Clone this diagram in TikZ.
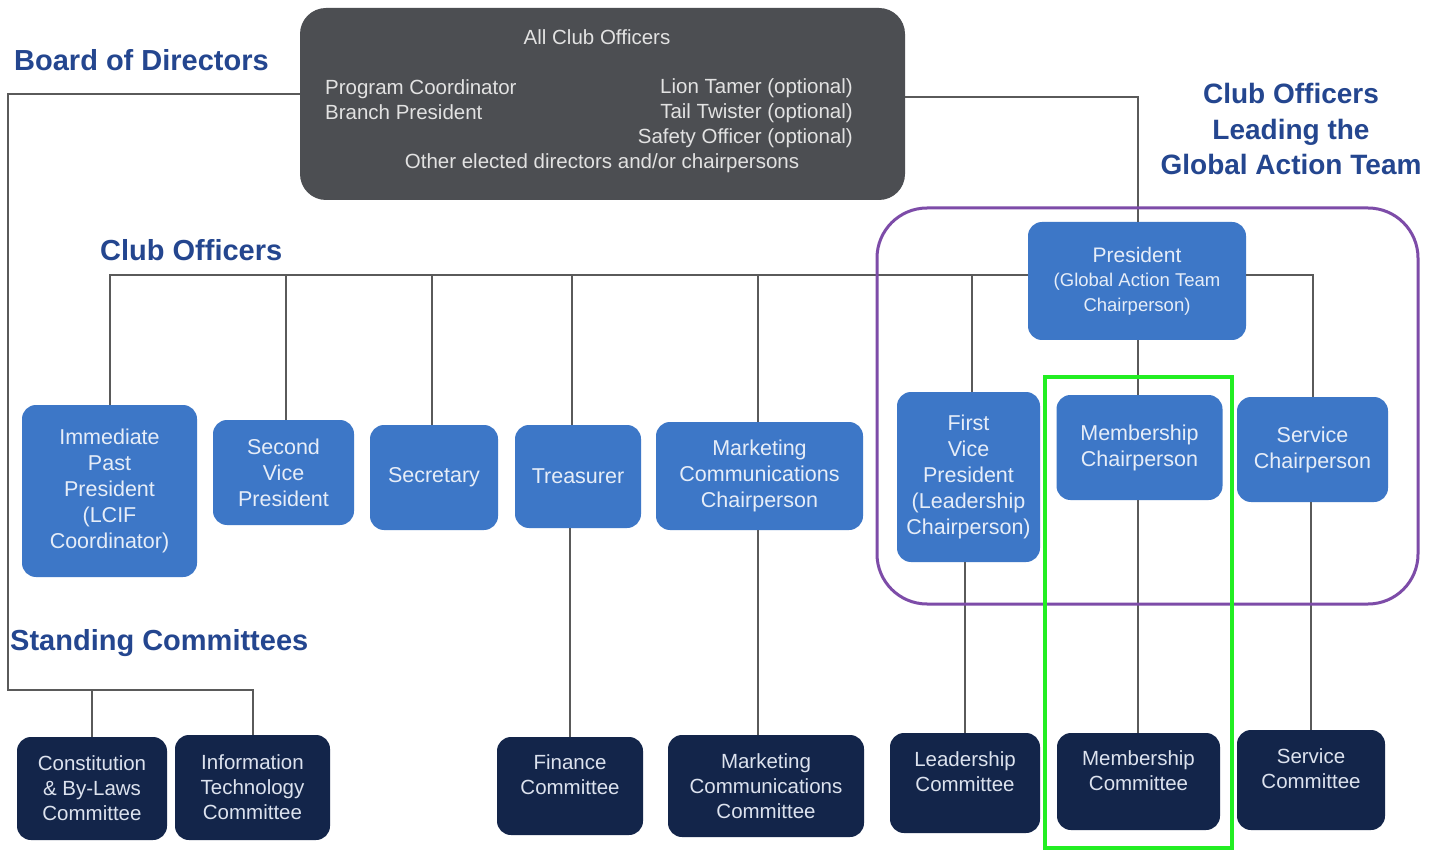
\documentclass[tikz,border=0pt]{standalone}
\usepackage{fontspec}
\setmainfont{Liberation Sans}
\definecolor{boxblue}{HTML}{3D77C7}
\definecolor{boxtext}{HTML}{E6EDF8}
\definecolor{navy}{HTML}{13254A}
\definecolor{navytext}{HTML}{DCE2EE}
\definecolor{topgray}{HTML}{4C4E52}
\definecolor{toptextc}{HTML}{E2E2E2}
\definecolor{headblue}{HTML}{24468F}
\definecolor{linegray}{HTML}{5A5A5A}
\definecolor{purpleframe}{HTML}{7D4CA8}
\definecolor{greenframe}{HTML}{22EE22}
\tikzset{
  bluebox/.style={fill=boxblue, rounded corners=14pt, text=boxtext, align=center, inner sep=0pt, font=\fontsize{21.5}{26}\selectfont},
  navybox/.style={fill=navy, rounded corners=14pt, text=navytext, align=center, inner sep=0pt, font=\fontsize{20.5}{25}\selectfont},
  heading/.style={text=headblue, font=\fontsize{29}{35.5}\selectfont\bfseries, inner sep=0pt},
  conn/.style={draw=linegray, line width=2pt},
  toptext/.style={text=toptextc, font=\fontsize{20.5}{25}\selectfont, inner sep=0pt},
}
\begin{document}
\begin{tikzpicture}[x=1pt,y=-1pt]
\useasboundingbox (0,0) rectangle (1441,850);
\fill[white] (0,0) rectangle (1441,850);

% headings
\node[heading, anchor=base west] (hbd) at (14,71) {Board of Directors};
\node[heading, anchor=base west] (hco) at (100,261) {Club Officers};
\node[heading, anchor=base west] (hsc) at (10,650) {Standing Committees};
\node[heading, align=center, font=\fontsize{28}{35.5}\selectfont\bfseries] (hgat) at (1291,129) {Club Officers\\Leading the\\Global Action Team};

% top box
\node[fill=topgray, rounded corners=26pt, minimum width=605, minimum height=192, inner sep=0pt] (top) at (602.5,104) {};
\node[toptext] (tall) at (597,37) {All Club Officers};
\node[toptext, align=left, anchor=west] (tleft) at (325,100) {Program Coordinator\\Branch President};
\node[toptext, align=right, anchor=east] (tright) at (853,113) {Lion Tamer (optional)\\Tail Twister (optional)\\Safety Officer (optional)};
\node[toptext] (tother) at (602,163) {Other elected directors and/or chairpersons};

% officers
\node[bluebox, minimum width=218, minimum height=118, font=\fontsize{18.5}{24.5}\selectfont] (pres) at (1137,281) {{\fontsize{21}{24.5}\selectfont President}\\(Global Action Team\\Chairperson)};
\node[bluebox, minimum width=175, minimum height=172] (ipp) at (109.5,491) {Immediate\\Past\\President\\(LCIF\\Coordinator)};
\node[bluebox, minimum width=141, minimum height=105] (svp) at (283.5,472.5) {Second\\Vice\\President};
\node[bluebox, minimum width=128, minimum height=105] (sec) at (434,477.5) {Secretary};
\node[bluebox, minimum width=126, minimum height=103] (tre) at (578,476.5) {Treasurer};
\node[bluebox, minimum width=207, minimum height=108] (mkt) at (759.5,476) {Marketing\\Communications\\Chairperson};
\node[bluebox, minimum width=143, minimum height=170] (fvp) at (968.5,477) {First\\Vice\\President\\(Leadership\\Chairperson)};
\node[bluebox, minimum width=166, minimum height=105] (mem) at (1139.5,447.5) {Membership\\Chairperson};
\node[bluebox, minimum width=151, minimum height=105] (svc) at (1312.5,449.5) {Service\\Chairperson};

% committees
\node[navybox, minimum width=150, minimum height=103] (cbl) at (92,788.5) {Constitution\\\& By-Laws\\Committee};
\node[navybox, minimum width=155, minimum height=105] (itc) at (252.5,787.5) {Information\\Technology\\Committee};
\node[navybox, minimum width=146, minimum height=98] (fin) at (570,786) {Finance\\Committee\\[-10pt]\strut};
\node[navybox, minimum width=196, minimum height=102] (mcc) at (766,786) {Marketing\\Communications\\Committee};
\node[navybox, minimum width=150, minimum height=100] (lead) at (965,783) {Leadership\\Committee\\[-10pt]\strut};
\node[navybox, minimum width=163, minimum height=97] (memc) at (1138.5,781.5) {Membership\\Committee\\[-10pt]\strut};
\node[navybox, minimum width=148, minimum height=100] (svcc) at (1311,780) {Service\\Committee\\[-10pt]\strut};

% connectors
\coordinate (bl) at (8,94);
\coordinate (bd) at (8,690);
\draw[conn] (top.west |- bl) -- (bl) -- (bd) -| (itc.north);
\draw[conn] (cbl.north) -- (cbl.north |- bd);
\coordinate (tr) at (1138,97);
\draw[conn] (top.east |- tr) -- (tr) -- (tr |- pres.north);
\coordinate (co) at (108,275);
\draw[conn] (ipp.north) |- (pres.west |- co);
\draw[conn] ([xshift=2pt]svp.north) -- ([xshift=2pt]svp.north |- co);
\draw[conn] ([xshift=-2pt]sec.north) -- ([xshift=-2pt]sec.north |- co);
\draw[conn] ([xshift=-6pt]tre.north) -- ([xshift=-6pt]tre.north |- co);
\draw[conn] ([xshift=-2pt]mkt.north) -- ([xshift=-2pt]mkt.north |- co);
\draw[conn] ([xshift=3pt]fvp.north) -- ([xshift=3pt]fvp.north |- co);
\draw[conn] (pres.east |- co) -| (svc.north);
\draw[conn] (tr |- pres.south) -- (tr |- mem.north);
\draw[conn] (fin.north) -- (fin.north |- tre.south);
\draw[conn] ([xshift=-2pt]mkt.south) -- ([xshift=-2pt]mkt.south |- mcc.north);
\draw[conn] (lead.north) -- (lead.north |- fvp.south);
\draw[conn] (tr |- mem.south) -- (tr |- memc.north);
\draw[conn] (svcc.north) -- (svcc.north |- svc.south);

% frames
\draw[purpleframe, line width=3pt, rounded corners=50pt] (877,208) rectangle (1418,604);
\draw[greenframe, line width=4pt] (1045,377) rectangle (1232,848);
\end{tikzpicture}
\end{document}
